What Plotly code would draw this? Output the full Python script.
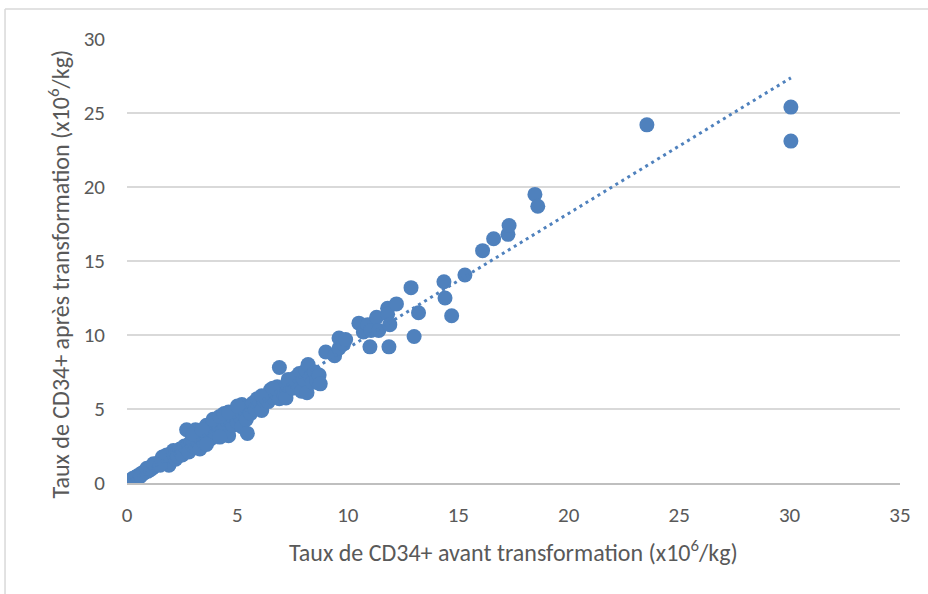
import numpy as np
import plotly.graph_objects as go

# CD34+ before (x) and after (y) transformation, x10^6/kg
x_before = [
    0.2, 0.25, 0.3, 0.35, 0.4, 0.45, 0.5, 0.55, 0.6, 0.65, 0.7, 0.75, 0.8, 0.85, 0.9, 0.95,
    1.0, 1.05, 1.1, 1.15, 1.2, 1.25, 1.3, 1.4, 1.45, 1.5, 1.55, 1.6, 1.7, 1.75, 1.8, 1.9, 1.95, 2.0,
    0.3, 0.6, 0.9, 1.2, 1.5, 1.8, 2.1, 2.2,
    2.1, 2.2, 2.3, 2.3, 2.4, 2.5, 2.5, 2.6, 2.7, 2.7, 2.8, 2.8, 2.9, 3.0, 3.0, 3.1, 3.1, 3.2,
    3.3, 3.3, 3.4, 3.5, 3.5, 3.6, 3.6, 3.7, 3.8, 3.8, 3.9, 4.0, 4.0, 4.1, 4.2, 4.3, 4.3, 4.4,
    4.5, 4.5, 4.6, 4.7, 4.8, 4.8, 4.9, 5.0, 5.0, 5.1, 5.2, 5.2, 5.3, 5.4, 5.45, 5.5, 5.6, 5.7,
    5.8, 5.9, 6.0, 6.1, 6.2, 6.3, 6.4, 6.5, 6.6, 6.7, 6.8, 6.9, 6.9, 7.0, 7.1, 7.2, 7.25, 7.4,
    7.5, 7.6, 7.7, 7.8, 7.9, 8.0, 8.1, 8.15, 8.2, 8.3, 8.4, 8.5, 8.6, 8.7, 8.75,
    3.0, 3.4, 3.9, 4.2, 4.4, 4.6, 5.0, 4.2, 3.6, 6.1, 6.6, 7.3,
    9.0, 9.4, 9.6, 9.6, 9.8, 9.9,
    10.5, 10.7, 10.9, 11.0, 11.05, 11.3, 11.4, 11.8, 11.8, 11.9, 11.86, 12.2,
    12.86, 13.2, 13.0, 14.35, 14.4, 14.7, 15.3, 16.1, 16.6, 17.25, 17.3, 18.47, 18.6,
    23.54, 30.06, 30.06,
]
y_after = [
    0.2, 0.3, 0.3, 0.35, 0.4, 0.4, 0.5, 0.5, 0.55, 0.6, 0.7, 0.65, 0.75, 0.8, 0.85, 0.8,
    0.95, 0.9, 1.05, 1.0, 1.1, 1.15, 1.2, 1.25, 1.4, 1.35, 1.5, 1.75, 1.5, 1.6, 1.7, 1.2, 1.8, 1.9,
    0.25, 0.45, 1.0, 1.3, 1.2, 1.9, 2.0, 1.6,
    2.2, 2.0, 2.1, 1.8, 2.3, 2.2, 1.9, 2.5, 3.6, 2.4, 2.6, 2.1, 2.8, 2.5, 2.7, 3.6, 2.9, 2.8,
    2.3, 3.1, 3.0, 3.3, 2.7, 3.9, 3.2, 3.4, 3.0, 3.6, 3.5, 3.7, 3.2, 4.0, 3.8, 3.3, 4.1, 3.9,
    3.6, 4.3, 3.2, 4.2, 4.6, 3.9, 4.4, 4.8, 4.1, 4.5, 5.3, 3.8, 4.9, 4.3, 3.35, 5.1, 4.7, 5.4,
    5.0, 5.7, 5.3, 4.9, 5.6, 5.9, 5.5, 6.3, 5.8, 6.1, 6.5, 7.8, 5.7, 6.3, 6.0, 5.75, 6.6, 6.9,
    6.4, 7.1, 6.7, 7.4, 6.2, 7.0, 7.6, 6.1, 8.0, 7.2, 6.8, 7.5, 6.9, 7.3, 6.7,
    3.3, 3.6, 4.3, 4.5, 4.7, 4.8, 5.2, 3.1, 2.6, 5.9, 6.4, 7.0,
    8.85, 8.6, 9.8, 9.1, 9.4, 9.7,
    10.8, 10.2, 10.7, 9.2, 10.3, 11.2, 10.3, 11.8, 11.4, 10.7, 9.2, 12.1,
    13.2, 11.5, 9.9, 13.6, 12.5, 11.3, 14.05, 15.7, 16.5, 16.8, 17.4, 19.5, 18.7,
    24.2, 25.4, 23.1,
]

x_ticks = [0, 5, 10, 15, 20, 25, 30, 35]
y_ticks = [0, 5, 10, 15, 20, 25, 30]
x_title = "Taux de CD34+ avant transformation (x10<sup>6</sup>/kg)"
y_title = "Taux de CD34+ après transformation (x10<sup>6</sup>/kg)"

blue = "#4F81BD"
text_grey = "#595959"
font_family = "Calibri, Carlito, Lato, sans-serif"

# linear trendline (least squares on the data)
slope, intercept = np.polyfit(x_before, y_after, 1)
x_tr = np.array([min(x_before), max(x_before)])
y_tr = slope * x_tr + intercept

fig = go.Figure()
fig.add_trace(go.Scatter(
    x=x_before, y=y_after, mode="markers",
    marker=dict(size=15, color=blue, line=dict(width=0)),
    showlegend=False, hoverinfo="x+y",
))
fig.add_trace(go.Scatter(
    x=x_tr, y=y_tr, mode="lines",
    line=dict(color=blue, width=3, dash="3px,4px"),
    showlegend=False, hoverinfo="skip",
))

# outer chart border (light grey)
fig.add_shape(type="line", xref="paper", yref="paper",
              x0=-0.1578, y0=1.0676, x1=1.2, y1=1.0676,
              line=dict(color="#D9D9D9", width=1.5))
fig.add_shape(type="line", xref="paper", yref="paper",
              x0=-0.1578, y0=1.0676, x1=-0.1578, y1=-0.3,
              line=dict(color="#D9D9D9", width=1.5))

# axis titles as annotations for exact placement
fig.add_annotation(text=x_title, xref="paper", yref="paper",
                   x=0.5, y=-0.153, xanchor="center", yanchor="middle",
                   showarrow=False, font=dict(size=24, color=text_grey))
fig.add_annotation(text=y_title, xref="paper", yref="paper",
                   x=-0.088, y=0.472, xanchor="center", yanchor="middle",
                   textangle=-90, showarrow=False,
                   font=dict(size=24, color=text_grey))

fig.update_layout(
    width=928, height=594,
    margin=dict(l=127, r=28, t=39, b=111),
    paper_bgcolor="white", plot_bgcolor="white",
    font=dict(family=font_family, size=21, color=text_grey),
    showlegend=False,
)
fig.update_xaxes(
    range=[0, 35], tickvals=x_ticks, ticktext=[str(v) for v in x_ticks],
    showgrid=False, zeroline=False,
    showline=True, linecolor="#BFBFBF", linewidth=1.5,
    ticks="", ticklabelstandoff=12,
    tickfont=dict(size=21, color=text_grey),
)
fig.update_yaxes(
    range=[0, 30], tickvals=y_ticks, ticktext=[str(v) for v in y_ticks],
    showgrid=True, gridcolor="#D9D9D9", gridwidth=1.5, zeroline=False,
    showline=False, ticks="", ticklabelstandoff=21,
    tickfont=dict(size=21, color=text_grey),
)

fig.write_html("out.html")
